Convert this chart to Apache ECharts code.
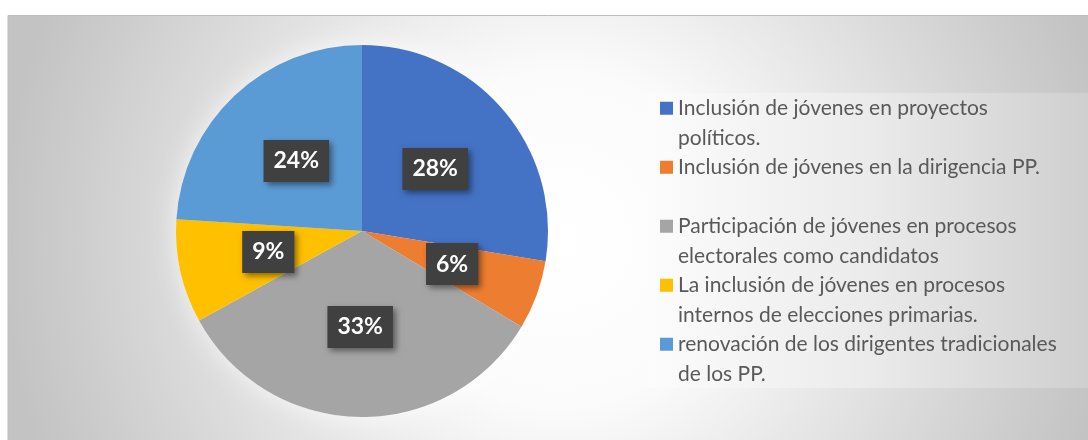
<!DOCTYPE html>
<html>
<head>
<meta charset="utf-8">
<script src="https://cdn.jsdelivr.net/npm/echarts@6/dist/echarts.min.js"></script>
<style>
  html, body { margin: 0; padding: 0; background: #fff; }
  #chart { width: 1088px; height: 440px; }
</style>
</head>
<body>
<div id="chart"></div>
<script>
const categories = [
  'Inclusión de jóvenes en proyectos políticos.',
  'Inclusión de jóvenes en la dirigencia PP.',
  'Participación de jóvenes en procesos electorales como candidatos',
  'La inclusión de jóvenes en procesos internos de elecciones primarias.',
  'renovación de los dirigentes tradicionales de los PP.'
]
// legend wrapping as in the original
const legendLines = [
  'Inclusión de jóvenes en proyectos\npolíticos.',
  'Inclusión de jóvenes en la dirigencia PP.\n ',
  'Participación de jóvenes en procesos\nelectorales como candidatos',
  'La inclusión de jóvenes en procesos\ninternos de elecciones primarias.',
  'renovación de los dirigentes tradicionales\nde los PP.'
]
const values = [27.6, 6.0, 33.4, 9.0, 24.0]
const colors = ['#4472C4', '#ED7D31', '#A5A5A5', '#FFC000', '#5B9BD5']

const LINE_H = 29.5
const FONT = 'Lato, "Open Sans", sans-serif'

const chart = echarts.init(document.getElementById('chart'), null, { renderer: 'canvas' })

const option = {
  animation: false,
  color: colors,
  graphic: [
    {
      type: 'rect',
      z: -10,
      silent: true,
      shape: { x: 8, y: 15.5, width: 1085, height: 430 },
      style: {
        fill: new echarts.graphic.RadialGradient(560, 240, 560, [
          { offset: 0, color: '#ffffff' },
          { offset: 0.3, color: '#fbfbfb' },
          { offset: 0.55, color: '#e6e6e6' },
          { offset: 0.8, color: '#d2d2d2' },
          { offset: 1, color: '#c3c3c3' }
        ], true),
        stroke: '#bdbdbd',
        lineWidth: 1
      }
    },
    {
      type: 'rect',
      z: -9,
      silent: true,
      shape: { x: 648, y: 93, width: 440, height: 295 },
      style: {
        fill: new echarts.graphic.LinearGradient(0, 0, 1, 0, [
          { offset: 0, color: '#fcfcfc' },
          { offset: 0.5, color: '#ebebeb' },
          { offset: 1, color: '#cfcfcf' }
        ])
      }
    }
  ],
  legend: {
    orient: 'vertical',
    left: 660,
    top: 64,
    padding: 0,
    itemWidth: 13,
    itemHeight: 13,
    itemGap: -LINE_H,
    icon: 'rect',
    selectedMode: false,
    data: categories,
    // a blank line above keeps the first text line level with the icon
    formatter: name => ' \n' + legendLines[categories.indexOf(name)],
    textStyle: {
      color: '#595959',
      fontFamily: FONT,
      fontSize: 21,
      lineHeight: LINE_H
    }
  },
  series: [
    {
      // soft light halo behind the pie
      type: 'pie',
      silent: true,
      center: [362, 231],
      radius: 186,
      z: 1,
      label: { show: false },
      labelLine: { show: false },
      itemStyle: {
        color: '#f4f4f4',
        shadowBlur: 24,
        shadowColor: 'rgba(255,255,255,0.7)'
      },
      data: [{ name: 'halo', value: 1 }]
    },
    {
      type: 'pie',
      center: [362, 231],
      radius: 186,
      z: 2,
      startAngle: 90,
      clockwise: true,
      avoidLabelOverlap: false,
      itemStyle: { borderWidth: 0 },
      label: {
        show: true,
        position: 'inside',
        formatter: p => Math.round(p.percent) + '%',
        color: '#ffffff',
        fontFamily: FONT,
        fontWeight: 'bold',
        fontSize: 23,
        lineHeight: 26,
        backgroundColor: '#404040',
        padding: [8, 10],
        shadowColor: 'rgba(0,0,0,0.45)',
        shadowBlur: 6,
        shadowOffsetX: 3,
        shadowOffsetY: 3
      },
      labelLine: { show: false },
      emphasis: { disabled: true },
      data: categories.map((c, i) => ({ name: c, value: values[i] }))
    }
  ]
}

chart.setOption(option)
</script>
</body>
</html>
